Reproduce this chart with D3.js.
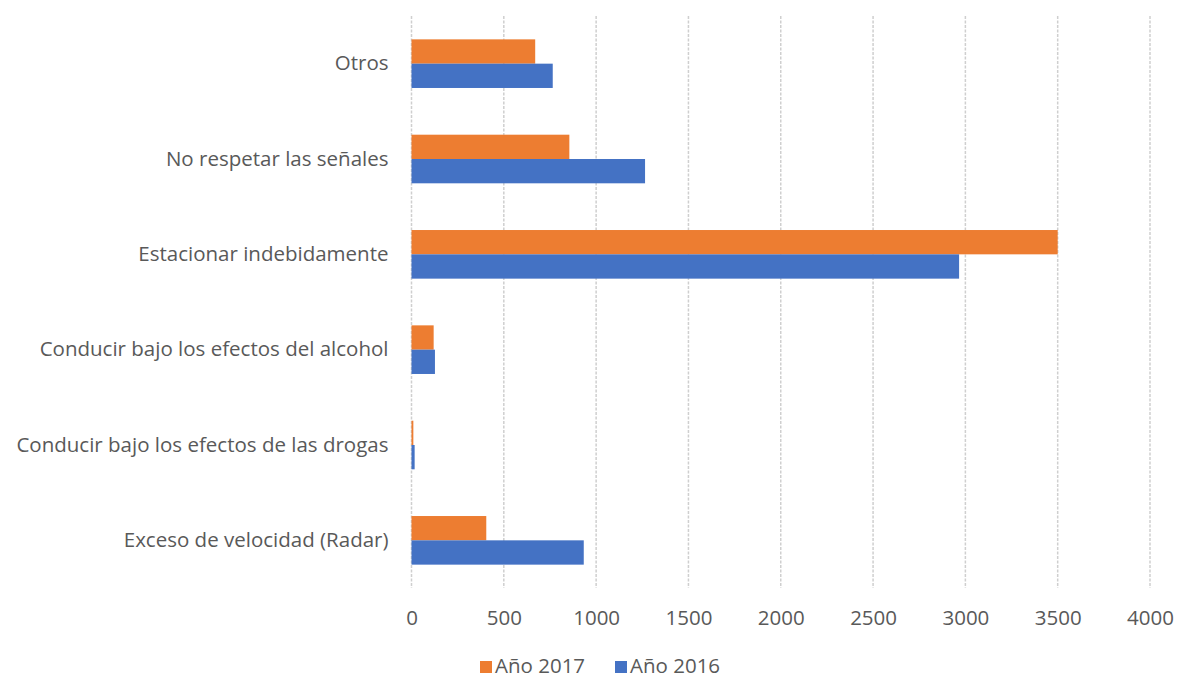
<!DOCTYPE html>
<html><head><meta charset="utf-8">
<script src="https://cdn.jsdelivr.net/npm/d3@7"></script>
<style>body{margin:0;background:#fff}svg{display:block}text{font-family:"Open Sans","Noto Sans",sans-serif}</style>
</head><body><svg id="c" width="1178" height="679"></svg>
<script>
const categories = ["Otros","No respetar las señales","Estacionar indebidamente","Conducir bajo los efectos del alcohol","Conducir bajo los efectos de las drogas","Exceso de velocidad (Radar)"];
const seriesNames = ["Año 2017","Año 2016"];
const values2017 = [670, 855, 3500, 120, 10, 405];
const values2016 = [765, 1265, 2966, 127, 17, 933];
const ticks = [0,500,1000,1500,2000,2500,3000,3500,4000];
const colors = ["#ED7D31","#4472C4"];

const svg = d3.select("#c");
const L = 411.5, R = 1150, T = 16, B = 588;
const FS = "20.5px";
const x = d3.scaleLinear().domain([0,4000]).range([L,R]);
const y = d3.scaleBand().domain(categories).range([T,B]).paddingInner(0.49).paddingOuter(0.245);
const ys = d3.scaleBand().domain(seriesNames).range([0,y.bandwidth()]);

// gridlines
svg.append("g").selectAll("line").data(ticks).join("line")
  .attr("x1",d=>x(d)).attr("x2",d=>x(d)).attr("y1",T).attr("y2",B)
  .attr("stroke","#cfcfcf").attr("stroke-width",1.5).attr("stroke-dasharray","3,1.5");

const data = [values2017, values2016];
const g = svg.append("g");
categories.forEach((c,i)=>{
  seriesNames.forEach((s,j)=>{
    g.append("rect").attr("x",x(0)).attr("y",y(c)+ys(s))
      .attr("width",x(data[j][i])-x(0)).attr("height",ys.bandwidth())
      .attr("fill",colors[j]);
  });
});

// x axis
const xa = svg.append("g").attr("transform",`translate(0,${B})`).call(d3.axisBottom(x).tickValues(ticks).tickFormat(d3.format("d")).tickSize(0).tickPadding(22));
xa.select(".domain").remove();
xa.selectAll("text").attr("fill","#595959").style("font-size",FS).style("font-family","'Open Sans',sans-serif");

// y axis
const ya = svg.append("g").attr("transform",`translate(${L},0)`).call(d3.axisLeft(y).tickSize(0).tickPadding(23));
ya.select(".domain").remove();
ya.selectAll("text").attr("fill","#595959").style("font-size",FS).style("font-family","'Open Sans',sans-serif");

// legend
const leg = svg.append("g").attr("transform","translate(0,666)");
const lx = [480, 615];
seriesNames.forEach((s,j)=>{
  leg.append("rect").attr("x",lx[j]).attr("y",-5).attr("width",12).attr("height",12).attr("fill",colors[j]);
  leg.append("text").attr("x",lx[j]+15).attr("y",0).attr("dy","0.36em").attr("fill","#595959")
    .style("font-size",FS).text(s);
});
</script></body></html>
